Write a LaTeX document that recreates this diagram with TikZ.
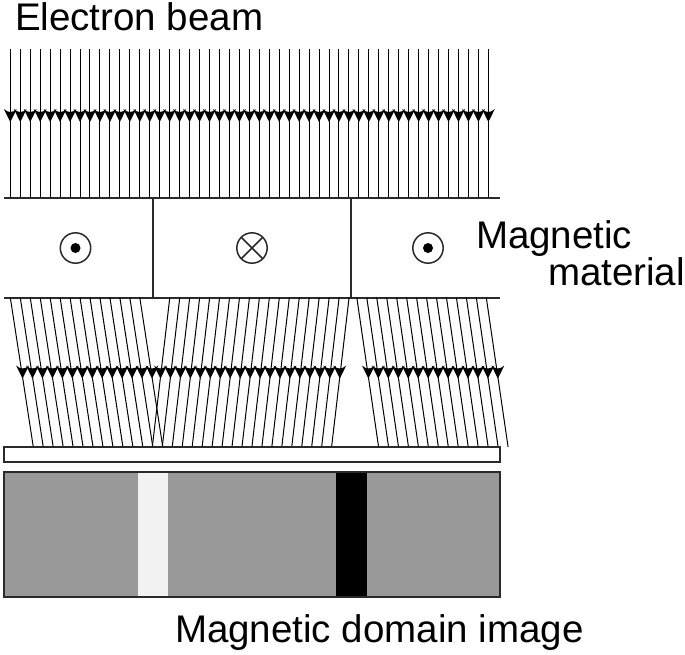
\documentclass[tikz,border=0pt]{standalone}
\usepackage{fontspec}
\setmainfont{Liberation Sans}
\definecolor{domaingray}{HTML}{999999}
\definecolor{domainlight}{HTML}{F2F2F2}
\definecolor{edge}{HTML}{2A2A2A}
\tikzset{
  beam/.style={draw=black,line width=1.0pt},
  wall/.style={draw=edge,line width=2.0pt},
  headfill/.style={fill=black},
  symbol/.style={draw=edge,line width=1.5pt},
  label/.style={anchor=base west,inner sep=0pt,outer sep=0pt,font=\fontsize{38.5}{38.5}\selectfont,text=black}
}
% one beam: top x, top y, bottom x, bottom y, head tip y
\newcommand{\beamline}[5]{%
  \draw[beam] (#1,#2) -- (#3,#4);
  \pgfmathsetmacro{\tipx}{#1+(#3-#1)*(#5-#2)/(#4-#2)}
  \fill[headfill,shift={(\tipx,#5)}] (0,1.5) .. controls (-2.8,-4) and (-4.5,-7.5) .. (-6.4,-11.5) .. controls (-4.5,-9.5) and (-2,-8.5) .. (0,-8.5) .. controls (2,-8.5) and (4.5,-9.5) .. (6.4,-11.5) .. controls (4.5,-7.5) and (2.8,-4) .. (0,1.5) -- cycle;
}
\begin{document}
\begin{tikzpicture}[x=1pt,y=-1pt]
\useasboundingbox (0,0) rectangle (685,654);
\fill[white] (0,0) rectangle (685,654);
% incident beam
\foreach \i in {0,...,48}{
  \pgfmathsetmacro{\xx}{10.3+9.96*\i}
  \beamline{\xx}{49}{\xx}{198}{120.5}
}
% material
\draw[wall] (4,198) -- (500,198);
\draw[wall] (4,297.5) -- (500,297.5);
\draw[wall] (152.5,198) -- (152.5,297.5);
\draw[wall] (351,198) -- (351,297.5);
% deflected beams, left domain
\foreach \i in {0,...,13}{
  \pgfmathsetmacro{\xx}{10.3+9.96*\i}
  \pgfmathsetmacro{\xb}{\xx+23}
  \beamline{\xx}{297.5}{\xb}{447}{377}
}
% centre domain
\foreach \i in {0,...,18}{
  \pgfmathsetmacro{\xx}{169.8+9.96*\i}
  \pgfmathsetmacro{\xb}{\xx-17.5}
  \beamline{\xx}{297.5}{\xb}{447}{377}
}
% right domain
\foreach \i in {0,...,13}{
  \pgfmathsetmacro{\xx}{356.8+9.96*\i}
  \pgfmathsetmacro{\xb}{\xx+21.8}
  \beamline{\xx}{297.5}{\xb}{447}{377}
}
% field symbols
\draw[symbol] (75.5,248) circle (15.2);
\fill[black] (75.5,248) circle (5);
\draw[symbol] (252,248) circle (15.2);
\draw[symbol] (241.4,237.4) -- (262.6,258.6) (241.4,258.6) -- (262.6,237.4);
\draw[symbol] (428,248) circle (15.2);
\fill[black] (428,248) circle (5);
% screen
\draw[wall,fill=white] (3.5,447) rectangle (500,462);
% domain image
\fill[domaingray] (3.5,472) rectangle (500,597);
\fill[domainlight] (138,472) rectangle (168,597);
\fill[black] (336,472) rectangle (367,597);
\draw[wall] (3.5,472) rectangle (500,597);
% labels
\node[label] (ebeam) at (15,30) {Electron beam};
\node[label] (mag1) at (476,248) {Magnetic};
\node[label] (mag2) at (548,285) {material};
\node[label] (dom) at (175,642) {Magnetic domain image};
\end{tikzpicture}
\end{document}
